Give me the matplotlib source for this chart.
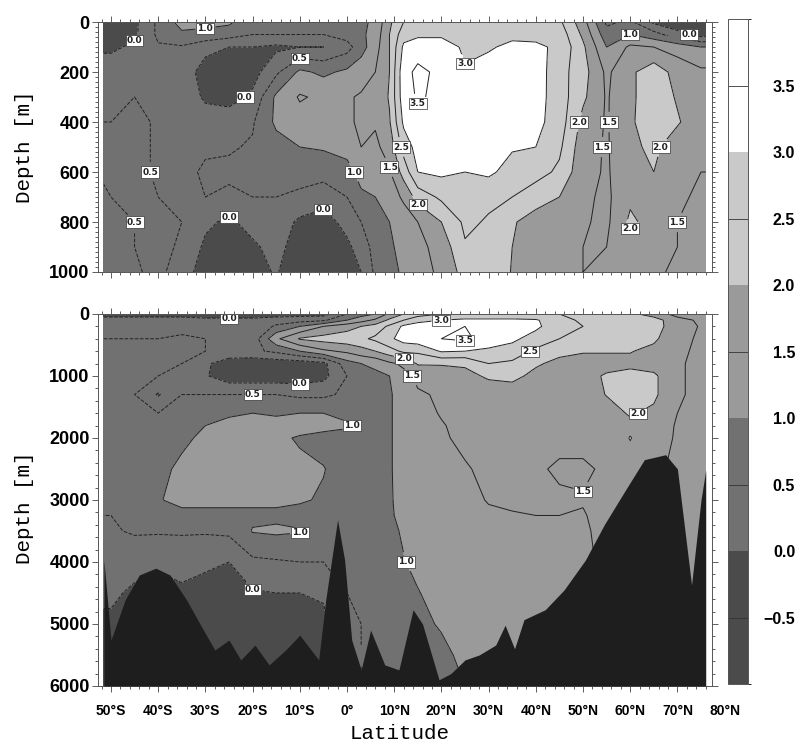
import numpy as np
import matplotlib.pyplot as plt
from matplotlib.colors import ListedColormap, BoundaryNorm
from matplotlib.ticker import MultipleLocator

# grid nodes (latitude, deg; negative = south)
lats = [-51.5, -50, -45, -40, -35, -30, -25, -20, -15, -10, -5, 0, 3, 6, 9,
        12, 15, 20, 25, 30, 35, 40, 45, 50, 55, 60, 65, 70, 75, 76]

# upper panel: 0-1000 m
depth_upper = [0, 50, 100, 200, 300, 400, 500, 600, 700, 800, 900, 1000]
temp_upper = [
    [-0.3, -0.3, -0.1, 0.6, 1.2, 1.2, 1.1, 0.6, 0.7, 0.8, 0.8, 0.8, 0.9, 1.1, 1.9, 2.5, 2.6, 2.7, 2.7, 2.7, 2.75, 2.7, 2.6, 1.7, 0.4, 0.6, -0.1, -0.4, -0.5, -0.5],
    [-0.3, -0.3, -0.1, 0.6, 0.9, 0.8, 0.7, 0.5, 0.5, 0.5, 0.5, 0.7, 0.9, 1.2, 2.0, 2.8, 2.9, 2.9, 2.8, 2.8, 2.9, 2.85, 2.8, 1.9, 0.7, 1.0, 0.7, 0.2, -0.2, -0.2],
    [-0.1, -0.1, 0.1, 0.45, 0.45, 0.2, 0.0, 0.0, -0.1, 0.0, 0.0, 0.3, 0.8, 1.3, 2.0, 3.1, 3.3, 3.3, 2.9, 2.95, 3.1, 3.1, 2.9, 2.1, 1.0, 1.6, 1.5, 1.3, 1.0, 1.0],
    [0.3, 0.3, 0.4, 0.45, 0.4, -0.3, -0.4, -0.2, 0.4, 1.1, 0.9, 1.1, 1.3, 1.5, 2.0, 3.35, 3.6, 3.4, 3.05, 3.2, 3.3, 3.25, 2.7, 2.2, 1.4, 1.9, 2.3, 1.8, 1.6, 1.6],
    [0.4, 0.4, 0.5, 0.45, 0.4, -0.1, -0.2, 0.1, 1.1, 1.55, 1.4, 1.45, 1.55, 1.6, 2.05, 3.3, 3.55, 3.4, 3.4, 3.35, 3.3, 3.2, 2.75, 2.1, 1.45, 1.9, 2.3, 1.95, 1.7, 1.7],
    [0.5, 0.5, 0.6, 0.45, 0.4, 0.3, 0.3, 0.45, 1.1, 1.3, 1.3, 1.4, 1.6, 1.55, 1.95, 3.1, 3.35, 3.35, 3.4, 3.35, 3.25, 3.15, 2.75, 1.85, 1.45, 1.95, 2.2, 2.05, 1.7, 1.7],
    [0.6, 0.6, 0.6, 0.45, 0.4, 0.45, 0.45, 0.55, 0.8, 1.0, 1.05, 1.2, 1.5, 1.4, 1.7, 2.7, 3.2, 3.3, 3.3, 3.3, 3.05, 3.0, 2.6, 1.7, 1.45, 1.9, 2.1, 1.75, 1.6, 1.6],
    [0.55, 0.55, 0.6, 0.45, 0.4, 0.55, 0.6, 0.65, 0.6, 0.7, 0.7, 0.8, 1.2, 1.2, 1.45, 2.2, 3.0, 3.1, 3.0, 3.1, 2.8, 2.7, 2.4, 1.65, 1.45, 1.8, 2.0, 1.65, 1.5, 1.5],
    [0.45, 0.5, 0.55, 0.5, 0.45, 0.5, 0.4, 0.5, 0.5, 0.4, 0.2, 0.5, 0.9, 1.0, 1.2, 1.6, 2.2, 2.6, 2.8, 2.6, 2.5, 2.2, 2.0, 1.6, 1.4, 1.9, 1.75, 1.6, 1.4, 1.4],
    [0.4, 0.45, 0.5, 0.6, 0.5, 0.1, -0.1, 0.2, 0.3, -0.1, -0.2, 0.15, 0.5, 0.85, 1.0, 1.2, 1.5, 2.0, 2.6, 2.45, 2.05, 1.8, 1.7, 1.55, 1.4, 2.1, 1.8, 1.5, 1.35, 1.35],
    [0.4, 0.4, 0.5, 0.6, 0.45, -0.1, -0.3, -0.1, 0.2, -0.3, -0.4, -0.1, 0.2, 0.7, 0.95, 1.1, 1.35, 1.7, 2.45, 2.3, 2.0, 1.7, 1.6, 1.5, 1.5, 1.7, 1.7, 1.5, 1.35, 1.35],
    [0.3, 0.35, 0.45, 0.6, 0.3, -0.3, -0.4, -0.2, 0.05, -0.4, -0.5, -0.2, 0.0, 0.6, 0.9, 1.05, 1.3, 1.6, 2.2, 2.25, 1.98, 1.7, 1.6, 1.5, 1.6, 1.6, 1.55, 1.45, 1.35, 1.35],
]

# lower panel: full depth
depth_full = [0, 100, 200, 400, 600, 800, 1000, 1300, 1600, 1800, 2000, 2500,
              3000, 3250, 3500, 4000, 4500, 5000, 5500, 6000]
temp_full = [
    [-0.2, -0.2, -0.2, -0.2, -0.2, -0.2, -0.2, -0.2, -0.2, -0.2, -0.2, 0.5, 0.8, 1.0, 1.6, 2.0, 2.3, 2.5, 2.6, 2.6, 2.6, 2.6, 2.5, 2.3, 2.2, 2.1, 1.8, 1.3, 1.0, 1.0],
    [0.2, 0.2, 0.2, 0.2, 0.2, 0.1, 0.1, 0.1, 0.2, 0.3, 0.4, 1.0, 1.3, 1.6, 2.1, 2.5, 2.8, 3.0, 3.1, 3.1, 3.1, 3.05, 2.7, 2.4, 2.3, 2.2, 2.2, 1.7, 1.4, 1.4],
    [0.4, 0.4, 0.4, 0.4, 0.4, 0.3, 0.1, 0.0, 0.6, 1.0, 1.5, 1.8, 2.0, 2.2, 2.6, 3.1, 3.3, 3.4, 3.5, 3.4, 3.2, 3.1, 2.7, 2.5, 2.4, 2.3, 2.15, 1.8, 1.45, 1.45],
    [0.5, 0.5, 0.5, 0.5, 0.55, 0.5, 0.3, 0.2, 1.4, 2.05, 2.2, 2.3, 2.4, 2.6, 2.9, 3.2, 3.3, 3.5, 3.6, 3.3, 3.1, 2.8, 2.5, 2.3, 2.3, 2.2, 2.1, 1.6, 1.45, 1.45],
    [0.55, 0.55, 0.55, 0.55, 0.6, 0.5, 0.4, 0.4, 0.6, 1.0, 1.4, 1.6, 1.8, 2.0, 2.3, 2.6, 2.6, 3.05, 3.0, 2.9, 2.8, 2.4, 2.1, 2.03, 2.03, 2.03, 1.85, 1.55, 1.45, 1.45],
    [0.6, 0.6, 0.6, 0.55, 0.5, 0.1, -0.3, -0.35, -0.3, -0.3, -0.15, 0.8, 1.0, 1.1, 1.4, 1.6, 2.05, 2.05, 2.05, 2.5, 2.4, 2.05, 1.9, 1.85, 1.85, 1.85, 1.75, 1.55, 1.4, 1.4],
    [0.6, 0.6, 0.6, 0.5, 0.45, 0.05, -0.3, -0.3, -0.3, -0.3, -0.15, 0.5, 0.8, 0.9, 1.0, 1.35, 1.6, 1.7, 1.9, 2.05, 2.1, 1.9, 1.85, 1.85, 2.05, 2.2, 2.1, 1.55, 1.4, 1.4],
    [0.6, 0.6, 0.5, -0.05, 0.5, 0.5, 0.5, 0.5, 0.5, 0.4, 0.4, 0.6, 0.8, 0.9, 0.95, 1.2, 1.45, 1.55, 1.7, 1.8, 1.8, 1.75, 1.75, 1.75, 2.02, 2.2, 2.1, 1.55, 1.4, 1.4],
    [0.6, 0.6, 0.6, 0.5, 0.6, 0.9, 0.95, 1.0, 0.95, 1.0, 1.0, 0.9, 0.85, 0.9, 0.95, 1.2, 1.4, 1.52, 1.6, 1.7, 1.7, 1.7, 1.7, 1.7, 1.8, 2.05, 1.9, 1.5, 1.4, 1.4],
    [0.6, 0.6, 0.6, 0.6, 0.75, 1.0, 1.1, 1.15, 1.15, 1.2, 1.15, 1.05, 0.9, 0.9, 0.95, 1.2, 1.4, 1.48, 1.58, 1.65, 1.65, 1.65, 1.65, 1.65, 1.75, 1.9, 1.8, 1.45, 1.4, 1.4],
    [0.6, 0.6, 0.65, 0.7, 0.85, 1.15, 1.2, 1.2, 1.1, 0.95, 0.85, 0.85, 0.85, 0.9, 0.95, 1.2, 1.4, 1.47, 1.55, 1.62, 1.62, 1.62, 1.6, 1.6, 1.7, 2.02, 1.7, 1.45, 1.4, 1.4],
    [0.6, 0.6, 0.7, 0.8, 1.15, 1.25, 1.25, 1.2, 1.15, 1.1, 1.02, 0.8, 0.8, 0.85, 0.95, 1.2, 1.35, 1.4, 1.48, 1.55, 1.58, 1.55, 1.45, 1.45, 1.55, 1.8, 1.6, 1.4, 1.4, 1.4],
    [0.55, 0.55, 0.65, 0.95, 1.2, 1.2, 1.15, 1.1, 1.1, 1.05, 0.95, 0.8, 0.8, 0.85, 0.95, 1.15, 1.3, 1.35, 1.4, 1.52, 1.55, 1.55, 1.55, 1.52, 1.6, 1.7, 1.6, 1.4, 1.4, 1.4],
    [0.5, 0.5, 0.6, 0.7, 0.8, 0.8, 0.85, 0.9, 0.9, 0.85, 0.7, 0.75, 0.8, 0.8, 0.95, 1.1, 1.3, 1.32, 1.35, 1.45, 1.48, 1.5, 1.5, 1.48, 1.6, 1.7, 1.6, 1.4, 1.4, 1.4],
    [0.45, 0.45, 0.55, 0.55, 0.55, 0.55, 0.6, 1.03, 1.08, 1.03, 0.7, 0.7, 0.75, 0.8, 0.9, 1.05, 1.25, 1.3, 1.3, 1.4, 1.45, 1.45, 1.45, 1.45, 1.6, 1.7, 1.6, 1.4, 1.4, 1.4],
    [0.3, 0.3, 0.2, 0.1, 0.2, 0.1, 0.0, 0.4, 0.45, 0.5, 0.5, 0.6, 0.7, 0.75, 0.85, 0.98, 1.1, 1.25, 1.3, 1.35, 1.4, 1.4, 1.4, 1.4, 1.6, 1.7, 1.6, 1.4, 1.4, 1.4],
    [0.1, 0.1, -0.1, -0.2, -0.1, -0.2, -0.2, -0.05, 0.0, 0.0, 0.05, 0.5, 0.6, 0.7, 0.8, 0.9, 0.98, 1.15, 1.2, 1.3, 1.35, 1.35, 1.35, 1.4, 1.6, 1.7, 1.6, 1.4, 1.4, 1.4],
    [-0.1, -0.1, -0.2, -0.2, -0.2, -0.2, -0.2, -0.2, -0.2, -0.2, -0.1, 0.4, 0.5, 0.6, 0.7, 0.8, 0.95, 1.02, 1.1, 1.2, 1.3, 1.3, 1.3, 1.4, 1.6, 1.7, 1.6, 1.4, 1.4, 1.4],
    [-0.2, -0.2, -0.2, -0.2, -0.2, -0.2, -0.2, -0.2, -0.2, -0.2, -0.2, 0.4, 0.5, 0.6, 0.7, 0.8, 0.9, 0.95, 1.05, 1.1, 1.2, 1.3, 1.3, 1.4, 1.6, 1.7, 1.6, 1.4, 1.4, 1.4],
    [-0.2, -0.2, -0.2, -0.2, -0.2, -0.2, -0.2, -0.2, -0.2, -0.2, -0.2, 0.4, 0.5, 0.6, 0.7, 0.8, 0.9, 0.9, 1.0, 1.1, 1.2, 1.3, 1.3, 1.4, 1.6, 1.7, 1.6, 1.4, 1.4, 1.4],
]

# sea floor
bathy_lat = [-51.5, -50, -47, -44, -40.5, -37.5, -34, -31, -28, -25, -22.5, -19.5,
             -16.5, -13, -10, -6, -4.5, -2, -0.5, 1, 3, 5, 8, 11, 14, 16, 19.5,
             22, 25, 28, 31.5, 33.5, 35.5, 37.5, 42, 46, 50.5, 54.5, 59, 63,
             67.5, 70, 73, 75, 76]
bathy_depth = [3970, 5260, 4610, 4210, 4100, 4210, 4610, 5020, 5420, 5260, 5580,
               5340, 5660, 5420, 5180, 5580, 4610, 3320, 3970, 5260, 5740, 5100,
               5660, 5740, 4770, 5000, 5900, 5800, 5580, 5500, 5340, 5020, 5400,
               4930, 4770, 4450, 3970, 3400, 2840, 2350, 2270, 2500, 4370, 3000, 2520]

shade_levels = [-1, 0, 1, 2, 3, 4]
line_levels = [-0.5, 0, 0.5, 1, 1.5, 2, 2.5, 3, 3.5]
band_colors = ['#4b4b4b', '#717171', '#9a9a9a', '#c9c9c9', '#ffffff']
cbar_ticks = [-0.5, 0, 0.5, 1, 1.5, 2, 2.5, 3, 3.5]
lat_ticks = [-50, -40, -30, -20, -10, 0, 10, 20, 30, 40, 50, 60, 70, 80]
lat_labels = ['50°S', '40°S', '30°S', '20°S', '10°S', '0°', '10°N', '20°N',
              '30°N', '40°N', '50°N', '60°N', '70°N', '80°N']

cmap = ListedColormap(band_colors)
norm = BoundaryNorm(shade_levels, cmap.N)
bold = dict(family='Liberation Sans', weight='bold')

fig = plt.figure(figsize=(8, 7.52), dpi=100)
ax1 = fig.add_axes([0.1225, 0.6383, 0.7675, 0.3324])
ax2 = fig.add_axes([0.1225, 0.0878, 0.7675, 0.4947])
cax = fig.add_axes([0.91, 0.0904, 0.025, 0.8843])


def draw_panel(ax, depths, temp, ymax, major, minor):
    X, Y = np.meshgrid(lats, depths)
    Z = np.array(temp)
    cf = ax.contourf(X, Y, Z, levels=shade_levels, cmap=cmap, norm=norm, zorder=1)
    styles = ['dashed' if v < 1 else 'solid' for v in line_levels]
    cs = ax.contour(X, Y, Z, levels=line_levels, colors='#222222',
                    linewidths=0.7, linestyles=styles, zorder=2)
    labels = ax.clabel(cs, fmt='%.1f', fontsize=6.5, inline=True, inline_spacing=3)
    for t in labels:
        t.set_rotation(0)
        t.set_fontweight('bold')
        t.set_zorder(2.5)
        t.set_bbox(dict(boxstyle='square,pad=0.12', fc='white', ec='#333333', lw=0.5))
    ax.set_xlim(-52.75, 77.33)
    ax.set_ylim(ymax, 0)
    ax.set_xticks(lat_ticks[:-1])
    ax.xaxis.set_minor_locator(MultipleLocator(2))
    ax.yaxis.set_major_locator(MultipleLocator(major))
    ax.yaxis.set_minor_locator(MultipleLocator(minor))
    ax.tick_params(which='both', direction='out', top=True, right=True,
                   color='#444444', width=0.6)
    ax.tick_params(which='major', length=4)
    ax.tick_params(which='minor', length=2.5)
    ax.tick_params(axis='x', labelbottom=False)
    ax.tick_params(axis='y', labelsize=13, pad=2)
    for lbl in ax.get_yticklabels():
        lbl.set_fontfamily('Liberation Sans')
        lbl.set_fontweight('bold')
    for s in ax.spines.values():
        s.set_color('#555555')
        s.set_linewidth(0.7)
    return cf, labels


cf, labels1 = draw_panel(ax1, depth_upper, temp_upper, 1000, 200, 20)
_, labels2 = draw_panel(ax2, depth_full, temp_full, 6000, 1000, 200)

# sea floor
ax2.fill_between(bathy_lat, bathy_depth, 6000, color='#1e1e1e', zorder=3, lw=0)

# drop contour labels hidden under the sea floor or crowding another label
fig.canvas.draw()
renderer = fig.canvas.get_renderer()
for labels, on_floor in [(labels1, False), (labels2, True)]:
    kept = []
    for t in labels:
        x, y = t.get_position()
        if on_floor and y > np.interp(x, bathy_lat, bathy_depth) - 450:
            t.remove()
            continue
        bb = t.get_window_extent(renderer).expanded(1.15, 1.3)
        if any(bb.overlaps(k) for k in kept):
            t.remove()
            continue
        kept.append(bb)

# latitude labels
for lat, lab in zip(lat_ticks, lat_labels):
    ax2.text(lat, -0.067, lab, transform=ax2.get_xaxis_transform(), ha='center',
             va='center', fontsize=10, clip_on=False, **bold)

fig.text(0.5, 0.025, 'Latitude', ha='center', va='center', fontsize=15,
         family='Liberation Mono')
fig.text(0.031, 0.8045, 'Depth [m]', ha='center', va='center', rotation=90,
         fontsize=15, family='Liberation Mono')
fig.text(0.031, 0.3245, 'Depth [m]', ha='center', va='center', rotation=90,
         fontsize=15, family='Liberation Mono')

# colour bar
cb = fig.colorbar(cf, cax=cax, ticks=cbar_ticks)
cb.outline.set_edgecolor('#555555')
cb.outline.set_linewidth(0.7)
for v in [-0.5, 0.5, 1.5, 2.5, 3.5]:
    cax.axhline(v, color='#333333', lw=0.6)
cax.tick_params(length=0, pad=34)
cax.set_yticklabels(['−0.5', '0.0', '0.5', '1.0', '1.5', '2.0', '2.5', '3.0', '3.5'])
for lbl in cax.get_yticklabels():
    lbl.set_ha('right')
    lbl.set_fontsize(11.5)
    lbl.set_fontfamily('Liberation Sans')
    lbl.set_fontweight('bold')

fig.savefig('out.png', dpi=100)
